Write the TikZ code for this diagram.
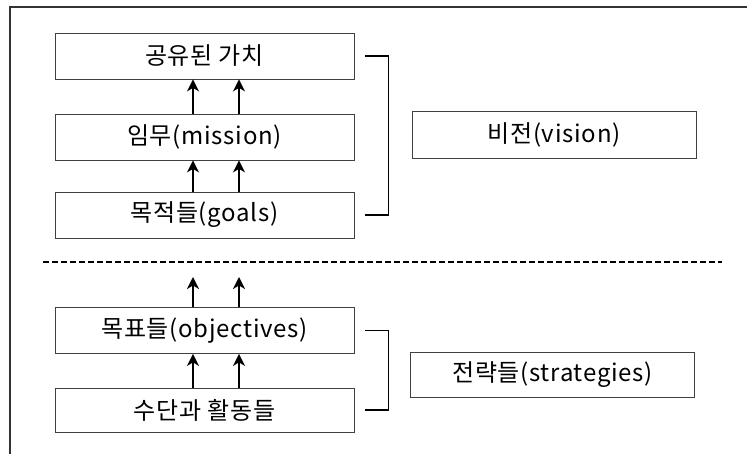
\documentclass[tikz,border=0pt]{standalone}
\usepackage{fontspec}
\setmainfont[LetterSpace=3]{Noto Sans CJK KR}
\usetikzlibrary{arrows.meta}
\begin{document}
\begin{tikzpicture}[x=1pt,y=-1pt,
  box/.style={draw=black!75, line width=0.8pt, minimum width=299pt, minimum height=46pt, inner sep=0pt, font=\fontsize{24}{28}\selectfont},
  sidebox/.style={box, minimum width=284pt},
  up/.style={-{Stealth[length=12pt,width=12pt,inset=3.5pt]}, line width=1.5pt},
  brk/.style={line width=1.3pt},
  frame/.style={line width=1.4pt, black!80}]
\useasboundingbox (0,0) rectangle (747,454);
\draw[frame] (10,454) -- (10,7) -- (747,7);
\node[box] (b1) at (204.5,56) {공유된 가치};
\node[box] (b2) at (204.5,137) {임무(mission)};
\node[box] (b3) at (204.5,215) {목적들(goals)};
\node[box] (b4) at (204.5,330.5) {목표들(objectives)};
\node[box, minimum height=44pt] (b5) at (204.5,410) {수단과 활동들};
\node[sidebox, minimum height=47pt] (vis) at (554,134.5) {비전(vision)};
\node[sidebox, minimum height=45pt] (str) at (552.5,374.5) {전략들(strategies)};
\coordinate (dl) at (43,262);
\coordinate (dr) at (722,262);
\draw[line width=1.2pt, dash pattern=on 6pt off 3pt] (dl) -- (dr);
\coordinate (t1) at (193,277);
\coordinate (t2) at (239,277);
\foreach \o in {-11.5,34.5}{
  \draw[up] ([xshift=\o pt]b2.north) -- ([xshift=\o pt]b1.south);
  \draw[up] ([xshift=\o pt]b3.north) -- ([xshift=\o pt]b2.south);
  \draw[up] ([xshift=\o pt]b5.north) -- ([xshift=\o pt]b4.south);
}
\draw[up] ([xshift=-11.5pt]b4.north) -- (t1);
\draw[up] ([xshift=34.5pt]b4.north) -- (t2);
\draw[brk] ([xshift=11pt]b1.east) -- ++(23,0) |- ([xshift=11pt]b3.east);
\draw[brk] ([xshift=11pt]b4.east) -- ++(23,0) |- ([xshift=11pt]b5.east);
\end{tikzpicture}
\end{document}
